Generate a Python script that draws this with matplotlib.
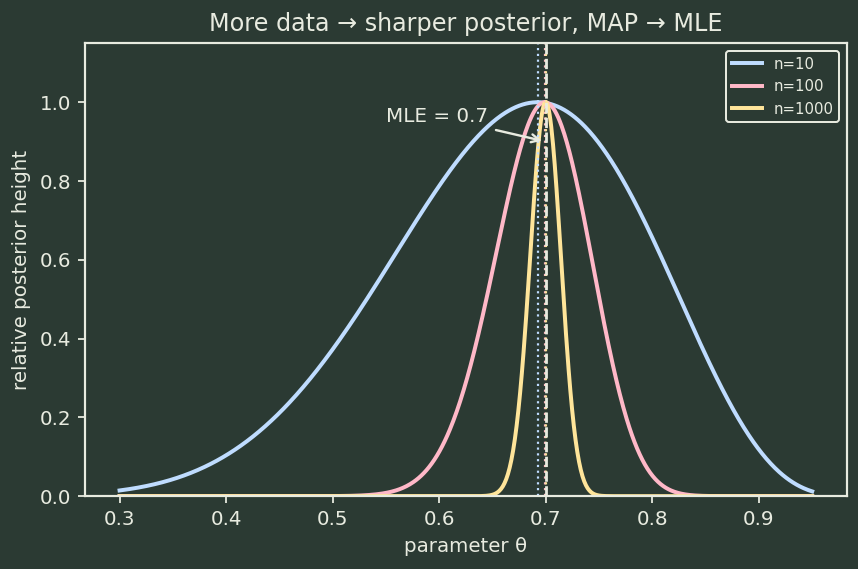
import numpy as np
import matplotlib
matplotlib.use("Agg")
import matplotlib.pyplot as plt

# coin-flip style data: n trials, 70% successes, Beta(3, 2) prior
sample_sizes = [10, 100, 1000]
successes = [7, 70, 700]
prior_a, prior_b = 3, 2
mle = 0.7
labels = ["n=10", "n=100", "n=1000"]
colors = ["#bfdcff", "#ffb8c8", "#ffe59a"]
theta_min, theta_max = 0.3, 0.95

bg = "#2b3a33"
fg = "#e8ebe0"

plt.rcParams["font.family"] = "DejaVu Sans"

fig = plt.figure(figsize=(6, 3.98), dpi=143, facecolor=bg)
ax = fig.add_axes([0.099, 0.128, 0.888, 0.796], facecolor=bg)

theta = np.linspace(theta_min, theta_max, 800)

for n, k, lab, c in zip(sample_sizes, successes, labels, colors):
    a = k + prior_a - 1
    b = n - k + prior_b - 1
    logp = a * np.log(theta) + b * np.log(1 - theta)
    post = np.exp(logp - logp.max())
    ax.plot(theta, post, color=c, lw=2.0, label=lab)

for n, k, c in zip(sample_sizes, successes, colors):
    map_est = (k + prior_a - 1) / (n + prior_a + prior_b - 2)
    ax.axvline(map_est, color=c, ls=":", lw=1.1)

ax.axvline(mle, color=fg, ls="--", lw=1.4)

ax.annotate("MLE = 0.7", xy=(0.7, 0.9), xytext=(0.55, 0.95),
            color=fg, fontsize=10,
            arrowprops=dict(arrowstyle="->", color=fg, lw=1.2))

ax.set_ylim(0, 1.15)
ax.set_title("More data → sharper posterior, MAP → MLE", color=fg, fontsize=12)
ax.set_xlabel("parameter θ", color=fg, fontsize=10)
ax.set_ylabel("relative posterior height", color=fg, fontsize=10)
ax.tick_params(colors=fg, labelsize=10, width=0.9, length=3.5)
for s in ax.spines.values():
    s.set_color(fg)
    s.set_linewidth(1.1)

leg = ax.legend(loc="upper right", fontsize=7.5, facecolor=bg, edgecolor=fg,
                labelcolor=fg, framealpha=1)

fig.savefig("out.png", dpi=143, facecolor=bg)
